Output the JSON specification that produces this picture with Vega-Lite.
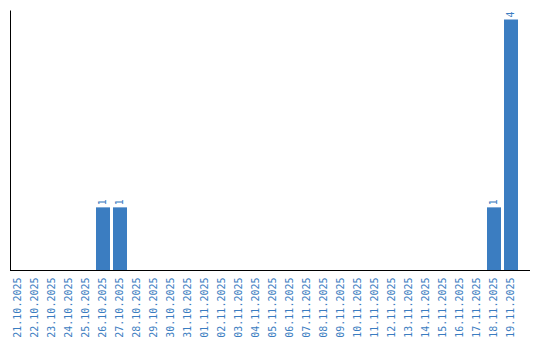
{
  "$schema": "https://vega.github.io/schema/vega-lite/v6.json",
  "width": 520,
  "height": 260,
  "autosize": "none",
  "padding": {"left": 10, "top": 10, "right": 10, "bottom": 70},
  "config": {"view": {"stroke": null}, "font": "DejaVu Sans Mono"},
  "data": {"values": [
    {"date": "21.10.2025", "count": 0},
    {"date": "22.10.2025", "count": 0},
    {"date": "23.10.2025", "count": 0},
    {"date": "24.10.2025", "count": 0},
    {"date": "25.10.2025", "count": 0},
    {"date": "26.10.2025", "count": 1},
    {"date": "27.10.2025", "count": 1},
    {"date": "28.10.2025", "count": 0},
    {"date": "29.10.2025", "count": 0},
    {"date": "30.10.2025", "count": 0},
    {"date": "31.10.2025", "count": 0},
    {"date": "01.11.2025", "count": 0},
    {"date": "02.11.2025", "count": 0},
    {"date": "03.11.2025", "count": 0},
    {"date": "04.11.2025", "count": 0},
    {"date": "05.11.2025", "count": 0},
    {"date": "06.11.2025", "count": 0},
    {"date": "07.11.2025", "count": 0},
    {"date": "08.11.2025", "count": 0},
    {"date": "09.11.2025", "count": 0},
    {"date": "10.11.2025", "count": 0},
    {"date": "11.11.2025", "count": 0},
    {"date": "12.11.2025", "count": 0},
    {"date": "13.11.2025", "count": 0},
    {"date": "14.11.2025", "count": 0},
    {"date": "15.11.2025", "count": 0},
    {"date": "16.11.2025", "count": 0},
    {"date": "17.11.2025", "count": 0},
    {"date": "18.11.2025", "count": 1},
    {"date": "19.11.2025", "count": 4}
  ]},
  "layer": [
    {
      "mark": {"type": "bar", "color": "#3b7dc1"},
      "encoding": {
        "x": {
          "field": "date", "type": "nominal", "sort": null,
          "scale": {"range": [1, 508], "paddingInner": 0.1765, "paddingOuter": 0},
          "axis": {"title": null, "domain": false, "ticks": false, "labelAngle": -90,
                   "labelPadding": 7, "labelFont": "DejaVu Sans Mono", "labelFontSize": 10,
                   "labelColor": "#3b7dc1"}
        },
        "y": {
          "field": "count", "type": "quantitative",
          "scale": {"domain": [0, 4.15], "nice": false, "zero": true},
          "axis": {"title": null, "labels": false, "ticks": false, "grid": false,
                   "domain": true, "domainColor": "#000000", "domainWidth": 1}
        }
      }
    },
    {
      "transform": [{"filter": "datum.count > 0"}],
      "mark": {"type": "text", "angle": 270, "align": "left", "baseline": "middle",
               "dx": 2, "font": "DejaVu Sans Mono", "fontSize": 10, "color": "#3b7dc1"},
      "encoding": {
        "x": {"field": "date", "type": "nominal", "sort": null},
        "y": {"field": "count", "type": "quantitative"},
        "text": {"field": "count", "type": "quantitative"}
      }
    },
    {
      "mark": {"type": "rule", "color": "#000000", "strokeWidth": 1, "yOffset": 0.5},
      "encoding": {"y": {"datum": 0, "type": "quantitative"}}
    }
  ]
}
